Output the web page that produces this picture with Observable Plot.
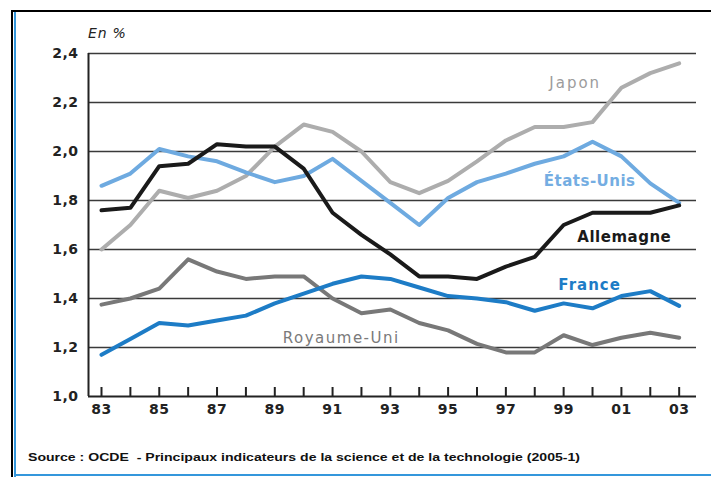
<!DOCTYPE html>
<html><head><meta charset="utf-8">
<script src="https://cdn.jsdelivr.net/npm/d3@7"></script>
<script src="https://cdn.jsdelivr.net/npm/@observablehq/plot@0.6"></script>
<style>
html,body{margin:0;padding:0;background:#fff;}
#wrap{position:relative;width:711px;height:477px;overflow:hidden;background:#fff;}
.bl{position:absolute;}
#unit{position:absolute;left:88px;top:25px;font-family:"DejaVu Sans";font-style:italic;font-size:14px;letter-spacing:0.8px;color:#222;}
#src{position:absolute;left:0;top:0;}
</style></head><body>
<div id="wrap">
  <div id="chart" style="position:absolute;left:0;top:0"></div>
  <div class="bl" style="left:11px;top:10px;width:700px;height:2px;background:#000"></div>
  <div class="bl" style="left:11px;top:10px;width:2px;height:467px;background:#000"></div>
  <div class="bl" style="left:14px;top:12px;width:2px;height:465px;background:#3497dc"></div>
  <div class="bl" style="left:14px;top:474px;width:697px;height:2px;background:#3497dc"></div>
  <div id="unit">En %</div>
  <svg id="src" width="711" height="477"><text x="28" y="461" textLength="552" lengthAdjust="spacingAndGlyphs" font-family="Liberation Sans" font-weight="bold" font-size="11.5" fill="#111" style="white-space:pre">Source : OCDE  - Principaux indicateurs de la science et de la technologie (2005-1)</text></svg>
</div>
<script>
const years = [1983,1984,1985,1986,1987,1988,1989,1990,1991,1992,1993,1994,1995,1996,1997,1998,1999,2000,2001,2002,2003];
const tickYears = [1983,1985,1987,1989,1991,1993,1995,1997,1999,2001,2003];
const yTicks = [1.0,1.2,1.4,1.6,1.8,2.0,2.2,2.4];

const japon      = [1.60,1.70,1.84,1.81,1.84,1.90,2.02,2.11,2.08,2.00,1.875,1.83,1.88,1.96,2.045,2.10,2.10,2.12,2.26,2.32,2.36];
const royaumeUni = [1.375,1.40,1.44,1.56,1.51,1.48,1.49,1.49,1.40,1.34,1.355,1.30,1.27,1.215,1.18,1.18,1.25,1.21,1.24,1.26,1.24];
const etatsUnis  = [1.86,1.91,2.01,1.98,1.96,1.915,1.875,1.90,1.97,1.88,1.79,1.70,1.81,1.875,1.91,1.95,1.98,2.04,1.98,1.87,1.79];
const france     = [1.17,1.235,1.30,1.29,1.31,1.33,1.38,1.42,1.46,1.49,1.48,1.445,1.41,1.40,1.385,1.35,1.38,1.36,1.41,1.43,1.37];
const allemagne  = [1.76,1.77,1.94,1.95,2.03,2.02,2.02,1.93,1.75,1.66,1.58,1.49,1.49,1.48,1.53,1.57,1.70,1.75,1.75,1.75,1.78];

const seriesNames  = ["Japon","Royaume-Uni","États-Unis","France","Allemagne"];
const seriesValues = [japon, royaumeUni, etatsUnis, france, allemagne];
const seriesColors = ["#adadad","#787878","#6eaae0","#1d7cc6","#1a1a1a"];

const rows = seriesNames.flatMap((n, k) => years.map((yr, i) => ({pays: n, annee: yr, valeur: seriesValues[k][i]})));

// label anchors (in data units)
const labels = [
  {text: "Japon",       annee: 1999.4, valeur: 2.28,  fill: "#9c9c9c", weight: "normal", ls: "2px"},
  {text: "États-Unis",  annee: 1999.9, valeur: 1.88,  fill: "#74ade2", weight: "bold",   ls: "0.5px"},
  {text: "Allemagne",   annee: 2001.1, valeur: 1.65,  fill: "#1a1a1a", weight: "bold",   ls: "0.5px"},
  {text: "France",      annee: 1999.9, valeur: 1.453, fill: "#1d7cc6", weight: "bold",   ls: "1px"},
  {text: "Royaume-Uni", annee: 1991.3, valeur: 1.24,  fill: "#7a7a7a", weight: "normal", ls: "1.5px"}
];

const xDomain = [1982.55, 2003.6];

const chart = Plot.plot({
  width: 711, height: 430,
  marginLeft: 88, marginRight: 15, marginTop: 53, marginBottom: 34,
  x: {domain: xDomain},
  y: {domain: [1.0, 2.4]},
  color: {domain: seriesNames, range: seriesColors},
  style: {fontFamily: "DejaVu Sans", fontSize: "14px", background: "transparent", color: "#222"},
  marks: [
    Plot.ruleY(yTicks.slice(1), {y: d => d, stroke: "#3a3a3a", strokeWidth: 1.6}),
    Plot.ruleX([xDomain[0]], {x: d => d, stroke: "#222", strokeWidth: 2}),
    Plot.ruleY([yTicks[0]], {y: d => d, stroke: "#222", strokeWidth: 2}),
    Plot.ruleX(years, {x: d => d, insetTop: 334, stroke: "#222", strokeWidth: 2}),
    Plot.line(rows, {x: "annee", y: "valeur", z: "pays", stroke: "pays", strokeWidth: 4, strokeLinejoin: "round", strokeLinecap: "round"}),
    Plot.axisX(tickYears, {tickSize: 0, tickPadding: 8, label: null, tickFormat: d => String(d).slice(2), fontWeight: "bold", fill: "#222"}),
    Plot.axisY(yTicks, {tickSize: 0, tickPadding: 10, label: null, tickFormat: d => d.toFixed(1).replace(".", ","), fontWeight: "bold", fill: "#222"}),
    ...labels.map(l => Plot.text([l], {x: "annee", y: "valeur", text: "text", fill: "fill", fontWeight: l.weight, fontSize: 15}))
  ]
});
document.getElementById("chart").appendChild(chart);
const svg = d3.select(chart);
svg.selectAll("text").each(function() {
  const t = this.textContent;
  const l = labels.find(d => d.text === t);
  if (l) this.setAttribute("letter-spacing", l.ls);
});
svg.selectAll('g[aria-label="x-axis tick label"] text, g[aria-label="y-axis tick label"] text').attr("letter-spacing", "0.5px");
</script>
</body></html>
